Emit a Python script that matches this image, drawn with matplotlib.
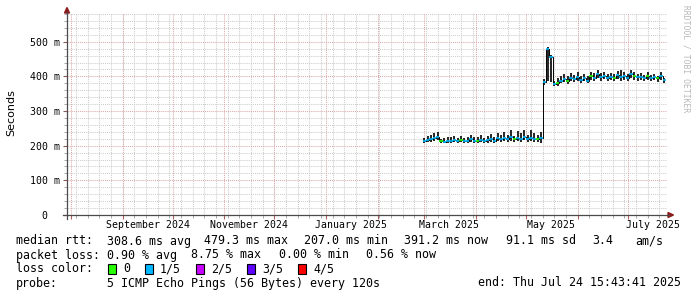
import matplotlib
matplotlib.use("Agg")
import matplotlib.pyplot as plt
import matplotlib.dates as mdates
from matplotlib.patches import Rectangle, Polygon
from matplotlib.lines import Line2D
import numpy as np
import pandas as pd

W, H = 697, 297
END = pd.Timestamp("2025-07-24 15:43:41")
SPAN_DAYS = 360
START = END - pd.Timedelta(days=SPAN_DAYS)

# ---- data (ms), one sample every 2 days starting 2025-03-01 ----
first_sample = "2025-03-01"
sample_step_days = 2

median_ms = [
    214, 216, 218, 221, 226, 213, 212, 215, 214, 217, 214, 216, 213, 215, 218, 214,
    215, 217, 214, 216, 219, 215, 221, 218, 222, 219, 224, 218, 222, 220, 225,
    219, 223, 220, 218, 222, 385, 479, 457, 378, 380, 388, 392, 386, 396, 392,
    398, 390, 395, 388, 400, 396, 408, 398, 402, 395, 399, 396, 403, 397, 401,
    396, 408, 400, 397, 399, 396, 402, 395, 398, 394, 401, 390,
]
smoke_hi_ms = [
    222, 228, 232, 236, 240, 220, 222, 226, 224, 228, 222, 229, 221, 226, 230, 224,
    226, 230, 223, 228, 234, 226, 238, 232, 240, 230, 246, 229, 242, 236, 244,
    232, 245, 236, 230, 240, 392, 484, 461, 388, 395, 402, 408, 400, 410, 405,
    412, 402, 408, 400, 414, 410, 418, 410, 414, 406, 411, 408, 416, 418, 412,
    408, 418, 412, 406, 410, 405, 414, 404, 408, 402, 412, 396,
]
smoke_lo_ms = [
    209, 210, 212, 214, 216, 207, 207, 209, 208, 210, 208, 210, 207, 209, 211, 208,
    209, 211, 208, 209, 212, 209, 213, 211, 214, 212, 215, 211, 214, 212, 216,
    211, 214, 212, 210, 207, 376, 388, 384, 372, 373, 380, 383, 378, 386, 383,
    388, 381, 386, 380, 390, 387, 396, 388, 392, 386, 390, 387, 392, 388, 391,
    387, 396, 390, 388, 390, 386, 391, 386, 389, 385, 390, 382,
]
loss_level = [
    1, 1, 1, 1, 1, 0, 1, 1, 1, 1, 1, 0, 1, 1, 1, 1,
    0, 1, 1, 1, 1, 1, 1, 1, 1, 1, 1, 0, 1, 1, 1,
    1, 1, 1, 0, 1, 1, 1, 1, 1, 0, 1, 1, 0, 1, 1,
    1, 1, 1, 1, 0, 1, 1, 1, 1, 1, 1, 0, 1, 1, 1,
    1, 1, 0, 1, 1, 1, 0, 1, 1, 0, 1, 1,
]

loss_labels = ["0", "1/5", "2/5", "3/5", "4/5"]
loss_colors = ["#26ff00", "#00b8ff", "#c800ff", "#5e00ff", "#ff0000"]

month_labels = ["September 2024", "November 2024", "January 2025",
                "March 2025", "May 2025", "July 2025"]
month_label_dates = ["2024-09-01", "2024-11-01", "2025-01-01",
                     "2025-03-01", "2025-05-01", "2025-07-01"]

y_ticks = [0, 100, 200, 300, 400, 500]
y_tick_labels = ["0  ", "100 m", "200 m", "300 m", "400 m", "500 m"]
Y_TOP = 583

rtt_items = ["median rtt:", "308.6 ms avg", "479.3 ms max", "207.0 ms min",
             "391.2 ms now", "91.1 ms sd", "3.4", "am/s"]
loss_items = ["packet loss:", "0.90 % avg", "8.75 % max", "0.00 % min", "0.56 % now"]
probe_text = "5 ICMP Echo Pings (56 Bytes) every 120s"
end_text = "end: Thu Jul 24 15:43:41 2025"

# ---- styles ----
MONO = "DejaVu Sans Mono"
GRID_MINOR = "#cdcdcd"
GRID_MAJOR = "#dcaaaa"
AXIS_C = "#4a4a4a"
ARROW_C = "#8b1a1a"


def fx(x):
    return x / W


def fy(y):
    return 1 - y / H


fig = plt.figure(figsize=(W / 100, H / 100), dpi=100)
fig.patch.set_facecolor("white")
ax = fig.add_axes([fx(67), fy(215), 600 / W, (215 - 13) / H])
ax.set_facecolor("white")
for s in ax.spines.values():
    s.set_visible(False)

x0 = mdates.date2num(START)
x1 = mdates.date2num(END)
ax.set_xlim(x0, x1)
ax.set_ylim(0, Y_TOP)

# grid
weeks = pd.date_range(START.normalize(), END, freq="W-SUN")
months = pd.date_range("2024-08-01", END, freq="MS")
for d in weeks:
    ax.axvline(mdates.date2num(d), color=GRID_MINOR, lw=0.75, ls=(0, (1, 1)), zorder=1)
for d in months:
    ax.axvline(mdates.date2num(d), color=GRID_MAJOR, lw=0.75, ls=(0, (1, 1)), zorder=1.5)
for v in range(20, Y_TOP, 20):
    c = GRID_MAJOR if v % 100 == 0 else GRID_MINOR
    ax.axhline(v, color=c, lw=0.75, ls=(0, (1, 1)), zorder=1.5 if v % 100 == 0 else 1)

# data
dates = pd.date_range(first_sample, periods=len(median_ms), freq=f"{sample_step_days}D")
xn = mdates.date2num(dates)
med = np.array(median_ms, dtype=float)
hi = np.array(smoke_hi_ms, dtype=float)
lo = np.array(smoke_lo_ms, dtype=float)

ax.bar(xn, hi - lo, bottom=lo, width=sample_step_days * 0.6, color="#2a2a2a",
       linewidth=0, zorder=3)
ax.plot(xn, med, drawstyle="steps-mid", color="black", lw=0.7, zorder=4)
ax.hlines(med, xn - sample_step_days / 2, xn + sample_step_days / 2,
          colors=[loss_colors[l] for l in loss_level], lw=1.2, zorder=5)

# ticks
ax.set_yticks(y_ticks, y_tick_labels)
ax.set_yticks(range(20, Y_TOP, 20), minor=True)
ax.tick_params(axis="y", which="major", length=3, color="#8b5a5a", pad=2,
               labelsize=7.1, labelfontfamily=MONO)
ax.tick_params(axis="y", which="minor", length=2, color="#9a9a9a")
ax.set_xticks(mdates.date2num(months), [""] * len(months))
ax.set_xticks(mdates.date2num(weeks), minor=True)
ax.tick_params(axis="x", which="major", length=3, color="#b06060")
ax.tick_params(axis="x", which="minor", length=2, color="#9a9a9a")

xt = ax.get_xaxis_transform()
for lab, d in zip(month_labels, month_label_dates):
    ax.text(mdates.date2num(pd.Timestamp(d)) + 15, -(225 - 215) / 202, lab,
            transform=xt, ha="center", va="center", fontsize=7.1, family=MONO)

# axes lines + arrows
fig.add_artist(Line2D([fx(67), fx(67)], [fy(219), fy(12)], color=AXIS_C, lw=0.9,
                      transform=fig.transFigure))
fig.add_artist(Line2D([fx(63), fx(669)], [fy(215), fy(215)], color=AXIS_C, lw=0.9,
                      transform=fig.transFigure))
fig.add_artist(Polygon([(fx(64.5), fy(13)), (fx(69.5), fy(13)), (fx(67), fy(7.5))],
                       closed=True, color=ARROW_C, transform=fig.transFigure))
fig.add_artist(Polygon([(fx(668), fy(212.5)), (fx(668), fy(217.5)), (fx(673.5), fy(215))],
                       closed=True, color=ARROW_C, transform=fig.transFigure))

# y label & watermark
fig.text(fx(11), fy(113), "Seconds", rotation=90, ha="center", va="center",
         fontsize=8, family="DejaVu Sans")
fig.text(fx(686), fy(5), "RRDTOOL / TOBI OETIKER", rotation=270, ha="center",
         va="top", fontsize=5.8, family=MONO, color="#b8b8b8")

# legend rows
LS = 8.4
rtt_x = [16, 107, 204, 304, 404, 506, 592, 635]
for t, x in zip(rtt_items, rtt_x):
    fig.text(fx(x), fy(241), t, ha="left", va="center", fontsize=LS, family=MONO)
loss_x = [16, 107, 191, 279, 366]
for t, x in zip(loss_items, loss_x):
    fig.text(fx(x), fy(255), t, ha="left", va="center", fontsize=LS, family=MONO)
fig.text(fx(16), fy(269), "loss color:", ha="left", va="center", fontsize=LS, family=MONO)
box_x = [108, 145, 196, 247, 298]
for lab, c, x in zip(loss_labels, loss_colors, box_x):
    fig.add_artist(Rectangle((fx(x), fy(274)), 8 / W, 10 / H, facecolor=c,
                             edgecolor="black", lw=0.8, transform=fig.transFigure))
    fig.text(fx(x + 15), fy(269), lab, ha="left", va="center", fontsize=LS, family=MONO)
fig.text(fx(16), fy(283), "probe:", ha="left", va="center", fontsize=LS, family=MONO)
fig.text(fx(107), fy(283), probe_text, ha="left", va="center", fontsize=LS, family=MONO)
fig.text(fx(478), fy(283), end_text, ha="left", va="center", fontsize=LS, family=MONO)

fig.savefig("out.png", dpi=100, facecolor="white")
